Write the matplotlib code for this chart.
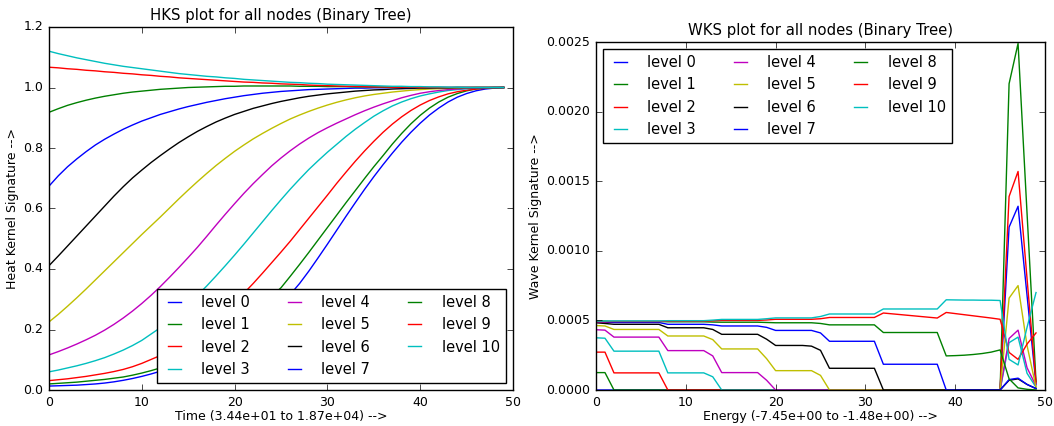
import matplotlib
matplotlib.use('Agg')
import matplotlib.pyplot as plt
from matplotlib.ticker import FormatStrFormatter

plt.style.use('classic')

levels = ['level %d' % i for i in range(11)]
colors = ['b', 'g', 'r', 'c', 'm', 'y', 'k', 'b', 'g', 'r', 'c']
steps = list(range(50))

# HKS values, one list per tree level (x = 0..49)
hks_level0 = [0.013, 0.014, 0.015, 0.016, 0.018, 0.020, 0.023, 0.027, 0.032, 0.038,
              0.045, 0.053, 0.062, 0.072, 0.083, 0.095, 0.108, 0.122, 0.137, 0.153,
              0.171, 0.190, 0.210, 0.232, 0.256, 0.285, 0.316, 0.352, 0.393, 0.437,
              0.482, 0.528, 0.574, 0.619, 0.663, 0.705, 0.745, 0.783, 0.819, 0.852,
              0.882, 0.909, 0.932, 0.952, 0.968, 0.980, 0.989, 0.995, 0.998, 1.000]
hks_level1 = [0.020, 0.022, 0.024, 0.026, 0.029, 0.032, 0.035, 0.039, 0.043, 0.049,
              0.056, 0.064, 0.073, 0.084, 0.096, 0.110, 0.125, 0.142, 0.161, 0.182,
              0.204, 0.228, 0.254, 0.281, 0.310, 0.338, 0.376, 0.415, 0.455, 0.496,
              0.537, 0.578, 0.619, 0.659, 0.699, 0.738, 0.775, 0.813, 0.848, 0.880,
              0.908, 0.932, 0.952, 0.968, 0.980, 0.989, 0.995, 0.998, 0.999, 1.000]
hks_level2 = [0.031, 0.034, 0.037, 0.041, 0.045, 0.050, 0.055, 0.061, 0.068, 0.077,
              0.088, 0.101, 0.114, 0.129, 0.146, 0.165, 0.186, 0.209, 0.234, 0.261,
              0.290, 0.320, 0.352, 0.386, 0.421, 0.456, 0.492, 0.530, 0.568, 0.606,
              0.644, 0.683, 0.720, 0.756, 0.790, 0.822, 0.852, 0.879, 0.903, 0.924,
              0.942, 0.957, 0.969, 0.979, 0.986, 0.991, 0.995, 0.997, 0.999, 1.000]
hks_level3 = [0.060, 0.066, 0.073, 0.080, 0.088, 0.097, 0.107, 0.119, 0.132, 0.147,
              0.164, 0.185, 0.206, 0.230, 0.256, 0.284, 0.313, 0.344, 0.377, 0.411,
              0.446, 0.482, 0.519, 0.556, 0.593, 0.629, 0.664, 0.697, 0.729, 0.758,
              0.786, 0.812, 0.838, 0.862, 0.884, 0.905, 0.923, 0.939, 0.952, 0.963,
              0.972, 0.979, 0.985, 0.990, 0.993, 0.996, 0.998, 0.999, 1.000, 1.000]
hks_level4 = [0.116, 0.127, 0.139, 0.152, 0.166, 0.181, 0.198, 0.217, 0.238, 0.261,
              0.286, 0.313, 0.342, 0.373, 0.405, 0.438, 0.472, 0.508, 0.545, 0.581,
              0.616, 0.650, 0.682, 0.712, 0.741, 0.767, 0.791, 0.813, 0.833, 0.851,
              0.867, 0.882, 0.896, 0.910, 0.923, 0.935, 0.946, 0.956, 0.966, 0.974,
              0.981, 0.986, 0.990, 0.993, 0.995, 0.997, 0.998, 0.999, 1.000, 1.000]
hks_level5 = [0.225, 0.250, 0.277, 0.305, 0.334, 0.364, 0.394, 0.424, 0.454, 0.484,
              0.514, 0.543, 0.572, 0.602, 0.632, 0.661, 0.689, 0.716, 0.742, 0.766,
              0.789, 0.810, 0.830, 0.848, 0.865, 0.881, 0.896, 0.909, 0.921, 0.932,
              0.942, 0.951, 0.959, 0.966, 0.972, 0.977, 0.981, 0.985, 0.988, 0.991,
              0.993, 0.995, 0.996, 0.997, 0.998, 0.999, 1.000, 1.000, 1.000, 1.000]
hks_level6 = [0.411, 0.443, 0.476, 0.509, 0.542, 0.575, 0.608, 0.641, 0.672, 0.701,
              0.727, 0.752, 0.775, 0.797, 0.818, 0.837, 0.855, 0.871, 0.886, 0.899,
              0.911, 0.921, 0.931, 0.939, 0.947, 0.954, 0.960, 0.966, 0.971, 0.975,
              0.979, 0.982, 0.985, 0.988, 0.990, 0.992, 0.993, 0.995, 0.996, 0.997,
              0.998, 0.998, 0.999, 0.999, 1.000, 1.000, 1.000, 1.000, 1.000, 1.000]
hks_level7 = [0.674, 0.708, 0.738, 0.764, 0.788, 0.810, 0.829, 0.846, 0.862, 0.876,
              0.889, 0.900, 0.911, 0.920, 0.929, 0.937, 0.944, 0.951, 0.957, 0.963,
              0.968, 0.973, 0.977, 0.981, 0.984, 0.987, 0.989, 0.991, 0.993, 0.994,
              0.995, 0.996, 0.997, 0.998, 0.998, 0.999, 0.999, 1.000, 1.000, 1.000,
              1.000, 1.000, 1.000, 1.000, 1.000, 1.000, 1.000, 1.000, 1.000, 1.000]
hks_level8 = [0.918, 0.930, 0.941, 0.950, 0.958, 0.965, 0.971, 0.976, 0.981, 0.985,
              0.988, 0.991, 0.994, 0.996, 0.998, 1.000, 1.001, 1.002, 1.003, 1.004,
              1.004, 1.005, 1.005, 1.005, 1.005, 1.005, 1.005, 1.004, 1.004, 1.004,
              1.003, 1.003, 1.003, 1.002, 1.002, 1.002, 1.001, 1.001, 1.001, 1.001,
              1.000, 1.000, 1.000, 1.000, 1.000, 1.000, 1.000, 1.000, 1.000, 1.000]
hks_level9 = [1.067, 1.065, 1.062, 1.060, 1.057, 1.055, 1.052, 1.050, 1.047, 1.045,
              1.042, 1.040, 1.037, 1.035, 1.032, 1.030, 1.028, 1.026, 1.024, 1.022,
              1.020, 1.018, 1.017, 1.015, 1.014, 1.012, 1.011, 1.010, 1.008, 1.007,
              1.006, 1.005, 1.004, 1.004, 1.003, 1.002, 1.002, 1.001, 1.001, 1.001,
              1.000, 1.000, 1.000, 1.000, 1.000, 1.000, 1.000, 1.000, 1.000, 1.000]
hks_level10 = [1.120, 1.112, 1.105, 1.098, 1.092, 1.086, 1.080, 1.075, 1.070, 1.066,
               1.062, 1.058, 1.054, 1.050, 1.046, 1.043, 1.040, 1.037, 1.035, 1.032,
               1.030, 1.027, 1.025, 1.023, 1.021, 1.019, 1.017, 1.016, 1.014, 1.013,
               1.011, 1.010, 1.009, 1.008, 1.007, 1.006, 1.005, 1.004, 1.004, 1.003,
               1.003, 1.002, 1.002, 1.001, 1.001, 1.000, 1.000, 1.000, 1.000, 1.000]

# WKS values in units of 1e-4, one list per tree level (x = 0..49)
wks_level0 = [0, 0, 0, 0, 0, 0, 0, 0, 0, 0,
              0, 0, 0, 0, 0, 0, 0, 0, 0, 0,
              0, 0, 0, 0, 0, 0, 0, 0, 0, 0,
              0, 0, 0, 0, 0, 0, 0, 0, 0, 0,
              0, 0, 0, 0, 0, 0, 11.7, 13.2, 6.8, 0.4]
wks_level1 = [1.25, 1.25, 0, 0, 0, 0, 0, 0, 0, 0,
              0, 0, 0, 0, 0, 0, 0, 0, 0, 0,
              0, 0, 0, 0, 0, 0, 0, 0, 0, 0,
              0, 0, 0, 0, 0, 0, 0, 0, 0, 0,
              0, 0, 0, 0, 0, 0, 22.0, 24.9, 12.7, 0.6]
wks_level2 = [2.72, 2.72, 1.23, 1.23, 1.23, 1.23, 1.23, 1.23, 0, 0,
              0, 0, 0, 0, 0, 0, 0, 0, 0, 0,
              0, 0, 0, 0, 0, 0, 0, 0, 0, 0,
              0, 0, 0, 0, 0, 0, 0, 0, 0, 0,
              0, 0, 0, 0, 0, 0, 13.9, 15.7, 8.0, 0.5]
wks_level3 = [3.75, 3.72, 2.79, 2.79, 2.79, 2.79, 2.79, 2.79, 1.23, 1.23,
              1.23, 1.23, 1.23, 0.95, 0, 0, 0, 0, 0, 0,
              0, 0, 0, 0, 0, 0, 0, 0, 0, 0,
              0, 0, 0, 0, 0, 0, 0, 0, 0, 0,
              0, 0, 0, 0, 0, 0, 3.4, 3.8, 1.2, 0.2]
wks_level4 = [4.33, 4.30, 3.80, 3.80, 3.80, 3.80, 3.80, 3.80, 2.83, 2.83,
              2.83, 2.83, 2.83, 2.45, 1.25, 1.25, 1.25, 1.25, 1.25, 0.7,
              0, 0, 0, 0, 0, 0, 0, 0, 0, 0,
              0, 0, 0, 0, 0, 0, 0, 0, 0, 0,
              0, 0, 0, 0, 0, 0, 3.7, 4.3, 1.6, 0.3]
wks_level5 = [4.63, 4.60, 4.35, 4.35, 4.35, 4.35, 4.35, 4.35, 3.88, 3.88,
              3.88, 3.88, 3.88, 3.62, 2.95, 2.95, 2.95, 2.95, 2.95, 2.25,
              1.39, 1.39, 1.39, 1.39, 1.39, 1.05, 0, 0, 0, 0,
              0, 0, 0, 0, 0, 0, 0, 0, 0, 0,
              0, 0, 0, 0, 0, 0, 6.6, 7.5, 3.2, 0.2]
wks_level6 = [4.83, 4.78, 4.72, 4.72, 4.72, 4.72, 4.72, 4.72, 4.47, 4.47,
              4.47, 4.47, 4.47, 4.35, 4.00, 4.00, 4.00, 4.00, 4.00, 3.65,
              3.20, 3.20, 3.20, 3.20, 3.15, 2.85, 1.56, 1.56, 1.56, 1.56,
              1.56, 1.56, 0, 0, 0, 0, 0, 0, 0, 0,
              0, 0, 0, 0, 0, 0, 0.7, 0.8, 0.4, 0.1]
wks_level7 = [4.88, 4.87, 4.85, 4.85, 4.85, 4.85, 4.85, 4.85, 4.72, 4.72,
              4.72, 4.72, 4.72, 4.68, 4.60, 4.60, 4.60, 4.60, 4.60, 4.50,
              4.28, 4.28, 4.28, 4.28, 4.28, 4.10, 3.50, 3.50, 3.50, 3.50,
              3.50, 3.50, 1.85, 1.85, 1.85, 1.85, 1.85, 1.85, 1.85, 0,
              0, 0, 0, 0, 0, 0, 0.75, 0.85, 0.4, 0.1]
wks_level8 = [4.95, 4.95, 4.93, 4.93, 4.93, 4.93, 4.93, 4.93, 4.90, 4.90,
              4.90, 4.90, 4.90, 4.88, 4.87, 4.87, 4.87, 4.87, 4.87, 4.85,
              4.83, 4.83, 4.83, 4.83, 4.83, 4.78, 4.68, 4.68, 4.68, 4.68,
              4.68, 4.68, 4.13, 4.13, 4.13, 4.13, 4.13, 4.13, 4.13, 2.45,
              2.47, 2.50, 2.55, 2.62, 2.72, 2.88, 0.8, 0.15, 0.05, 0.0]
wks_level9 = [4.90, 4.90, 4.92, 4.92, 4.92, 4.92, 4.92, 4.92, 4.95, 4.95,
              4.95, 4.95, 4.95, 4.97, 5.00, 5.00, 5.00, 5.00, 5.00, 5.03,
              5.08, 5.08, 5.08, 5.08, 5.08, 5.12, 5.21, 5.21, 5.21, 5.21,
              5.21, 5.21, 5.53, 5.47, 5.41, 5.35, 5.29, 5.23, 5.17, 5.57,
              5.49, 5.41, 5.33, 5.25, 5.17, 5.08, 2.7, 2.2, 3.3, 4.1]
wks_level10 = [4.95, 4.95, 4.96, 4.96, 4.96, 4.96, 4.96, 4.96, 4.98, 4.98,
               4.98, 4.98, 4.98, 5.02, 5.07, 5.07, 5.07, 5.07, 5.07, 5.12,
               5.18, 5.18, 5.18, 5.18, 5.18, 5.28, 5.46, 5.46, 5.46, 5.46,
               5.46, 5.46, 5.82, 5.82, 5.82, 5.82, 5.82, 5.82, 5.82, 6.48,
               6.47, 6.46, 6.46, 6.45, 6.45, 6.43, 2.2, 1.8, 4.5, 7.0]

hks = [hks_level0, hks_level1, hks_level2, hks_level3, hks_level4, hks_level5,
       hks_level6, hks_level7, hks_level8, hks_level9, hks_level10]
wks = [wks_level0, wks_level1, wks_level2, wks_level3, wks_level4, wks_level5,
       wks_level6, wks_level7, wks_level8, wks_level9, wks_level10]
wks_unit = 1e-4

tick_fs = 9.0
title_fs = 10.7
legend_fs = 10.5

fig = plt.figure(figsize=(10.54, 4.26), dpi=100, facecolor='white')
ax1 = fig.add_axes([49/1054., 36/426., 464/1054., 363/426.])
ax2 = fig.add_axes([596/1054., 36/426., 449/1054., 348/426.])

for i in range(11):
    ax1.plot(steps, hks[i], color=colors[i], lw=1.0, label=levels[i])
    ax2.plot(steps, [v * wks_unit for v in wks[i]], color=colors[i], lw=1.0, label=levels[i])

ax1.set_xlim(0, 50)
ax1.set_ylim(0.0, 1.2)
ax1.yaxis.set_major_formatter(FormatStrFormatter('%.1f'))
ax1.set_title("HKS plot for all nodes (Binary Tree)", fontsize=title_fs)
ax1.set_xlabel("Time (3.44e+01 to 1.87e+04) -->", fontsize=tick_fs, labelpad=1)
ax1.set_ylabel("Heat Kernel Signature -->", fontsize=tick_fs, labelpad=3)

ax2.set_xlim(0, 50)
ax2.set_ylim(0.0, 0.0025)
ax2.set_yticks([0.0, 0.0005, 0.001, 0.0015, 0.002, 0.0025])
ax2.yaxis.set_major_formatter(FormatStrFormatter('%.4f'))
ax2.set_title("WKS plot for all nodes (Binary Tree)", fontsize=title_fs)
ax2.set_xlabel("Energy (-7.45e+00 to -1.48e+00) -->", fontsize=tick_fs, labelpad=1)
ax2.set_ylabel("Wave Kernel Signature -->", fontsize=tick_fs, labelpad=3)

for ax in (ax1, ax2):
    ax.set_xticks([0, 10, 20, 30, 40, 50])
    ax.tick_params(labelsize=tick_fs, direction='in', top=True, right=True)

legend_opts = dict(ncol=3, fontsize=legend_fs, handlelength=1.5, handletextpad=1.1,
                   columnspacing=2.3, borderaxespad=0.5, fancybox=False,
                   framealpha=1.0, edgecolor='black')
ax1.legend(loc='lower right', **legend_opts)
ax2.legend(loc='upper left', **legend_opts)

plt.savefig('out.png', dpi=100, facecolor='white')
